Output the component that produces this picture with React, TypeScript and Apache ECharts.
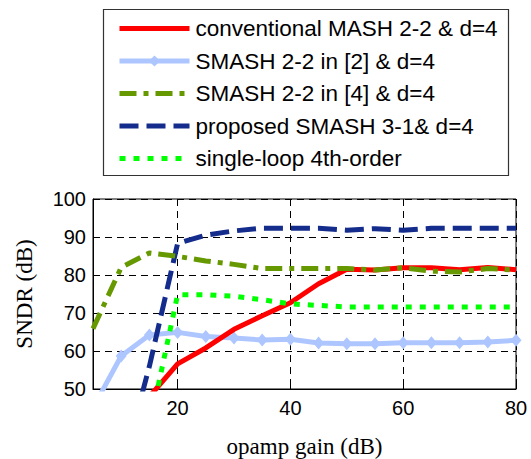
import React, { useEffect, useRef } from "react";
import * as echarts from "echarts";

const gainDb = [5, 10, 15, 20, 25, 30, 35, 40, 45, 50, 55, 60, 65, 70, 75, 80];
const xTicks = [20, 40, 60, 80];

const conventionalMash = [null, null, 48, 56.6, 60.8, 65.7, 69.3, 72.7, 77.7, 81.5, 81.3, 81.9, 81.9, 81.4, 82.0, 81.4];
const smashRef2 = [45, 58.7, 64.2, 64.9, 63.8, 63.4, 62.9, 63.1, 62.1, 61.9, 61.9, 62.2, 62.2, 62.2, 62.4, 62.8];
const smashRef4 = [65.9, 82, 85.8, 84.9, 83.7, 82.8, 81.7, 81.7, 81.7, 81.7, 81.3, 81.9, 81.0, 80.8, 81.7, 81.3];
const proposedSmash = [null, 28, 56, 88.3, 90.5, 91.6, 92.3, 92.3, 92.3, 91.8, 92.2, 91.8, 92.3, 92.3, 92.3, 92.3];
const singleLoop = [null, null, 40, 74.8, 74.8, 74.4, 73.5, 72.4, 72.0, 71.6, 71.6, 71.6, 71.6, 71.6, 71.6, 71.6];

const names = [
  "conventional MASH 2-2 & d=4",
  "SMASH 2-2 in [2] & d=4",
  "SMASH 2-2 in [4] & d=4",
  "proposed SMASH 3-1& d=4",
  "single-loop 4th-order",
];

const colors = ["#ff0000", "#aec6ff", "#669900", "#142c8c", "#00ff00"];
const dashes: any[] = ["solid", "solid", [17, 7, 5, 7], [19, 8], [6, 8]];

const pair = (ys: (number | null)[]) =>
  gainDb.map((x, i) => [x, ys[i]]).filter((p) => p[1] !== null);

export default function App() {
  const ref = useRef<HTMLDivElement>(null);
  useEffect(() => {
    if (!ref.current) return;
    const chart = echarts.init(ref.current, null, { renderer: "svg" });
    const sans = "Liberation Sans, Arial, sans-serif";
    const serif = "Liberation Serif, Times New Roman, serif";
    const legendData = names.map((n, i) => ({
      name: n,
      itemStyle: i === 1 ? { color: colors[i], opacity: 1 } : { opacity: 0 },
      lineStyle: { color: colors[i], width: 5, type: dashes[i], opacity: 1 },
    }));
    chart.setOption({
      animation: false,
      backgroundColor: "#fff",
      graphic: [
        {
          type: "rect",
          shape: { x: 103.5, y: 9.5, width: 405, height: 166 },
          style: { fill: "#fff", stroke: "#333", lineWidth: 1.2 },
          z: 0,
        },
      ],
      legend: {
        orient: "vertical",
        left: 117,
        top: 17,
        padding: 0,
        itemWidth: 70,
        itemHeight: 14,
        itemGap: 9.5,
        data: legendData,
        textStyle: { fontFamily: sans, fontSize: 22.5, lineHeight: 22, color: "#000", padding: [0, 0, 0, 1] },
        z: 5,
      },
      grid: {
        left: 93,
        right: 15,
        top: 199,
        bottom: 63,
        show: true,
        borderColor: "#000",
        borderWidth: 1,
        backgroundColor: "transparent",
      },
      xAxis: {
        type: "value",
        min: 5,
        max: 80,
        name: "opamp gain (dB)",
        nameLocation: "middle",
        nameGap: 46,
        nameTextStyle: { fontFamily: serif, fontSize: 23, color: "#000" },
        axisLine: { show: true, lineStyle: { color: "#000", width: 1 } },
        axisTick: { show: true, inside: true, length: 5, customValues: xTicks, lineStyle: { color: "#000" } },
        axisLabel: { customValues: xTicks, fontFamily: sans, fontSize: 20, color: "#000", margin: 9 },
        splitLine: { show: true, lineStyle: { color: "#000", type: [7, 5], width: 1 } },
      },
      yAxis: {
        type: "value",
        min: 50,
        max: 100,
        interval: 10,
        name: "SNDR (dB)",
        nameLocation: "middle",
        nameGap: 57,
        nameRotate: 90,
        nameTextStyle: { fontFamily: serif, fontSize: 23, color: "#000" },
        axisLine: { show: true, lineStyle: { color: "#000", width: 1 } },
        axisTick: { show: true, inside: true, length: 5, lineStyle: { color: "#000" } },
        axisLabel: { fontFamily: sans, fontSize: 20, color: "#000", margin: 7 },
        splitLine: { show: true, lineStyle: { color: "#000", type: [7, 5], width: 1 } },
      },
      series: [
        {
          name: names[1],
          type: "line",
          data: pair(smashRef2),
          symbol: "diamond",
          symbolSize: [11, 13],
          showSymbol: true,
          itemStyle: { color: colors[1] },
          lineStyle: { color: colors[1], width: 5, join: "round" },
          clip: true,
          z: 2,
        },
        {
          name: names[0],
          type: "line",
          data: pair(conventionalMash),
          symbol: "none",
          itemStyle: { color: colors[0] },
          lineStyle: { color: colors[0], width: 5, join: "round" },
          clip: true,
          z: 3,
        },
        {
          name: names[4],
          type: "line",
          data: pair(singleLoop),
          symbol: "none",
          itemStyle: { color: colors[4] },
          lineStyle: { color: colors[4], width: 5, type: dashes[4] },
          clip: true,
          z: 4,
        },
        {
          name: names[3],
          type: "line",
          data: pair(proposedSmash),
          symbol: "none",
          itemStyle: { color: colors[3] },
          lineStyle: { color: colors[3], width: 5, type: dashes[3] },
          clip: true,
          z: 5,
        },
        {
          name: names[2],
          type: "line",
          data: pair(smashRef4),
          symbol: "none",
          itemStyle: { color: colors[2] },
          lineStyle: { color: colors[2], width: 5, type: dashes[2] },
          clip: true,
          z: 6,
        },
      ],
    });
    return () => chart.dispose();
  }, []);
  return (
    <div
      ref={ref}
      style={{ position: "fixed", left: 0, top: 0, width: 531, height: 459, background: "#fff" }}
    />
  );
}
